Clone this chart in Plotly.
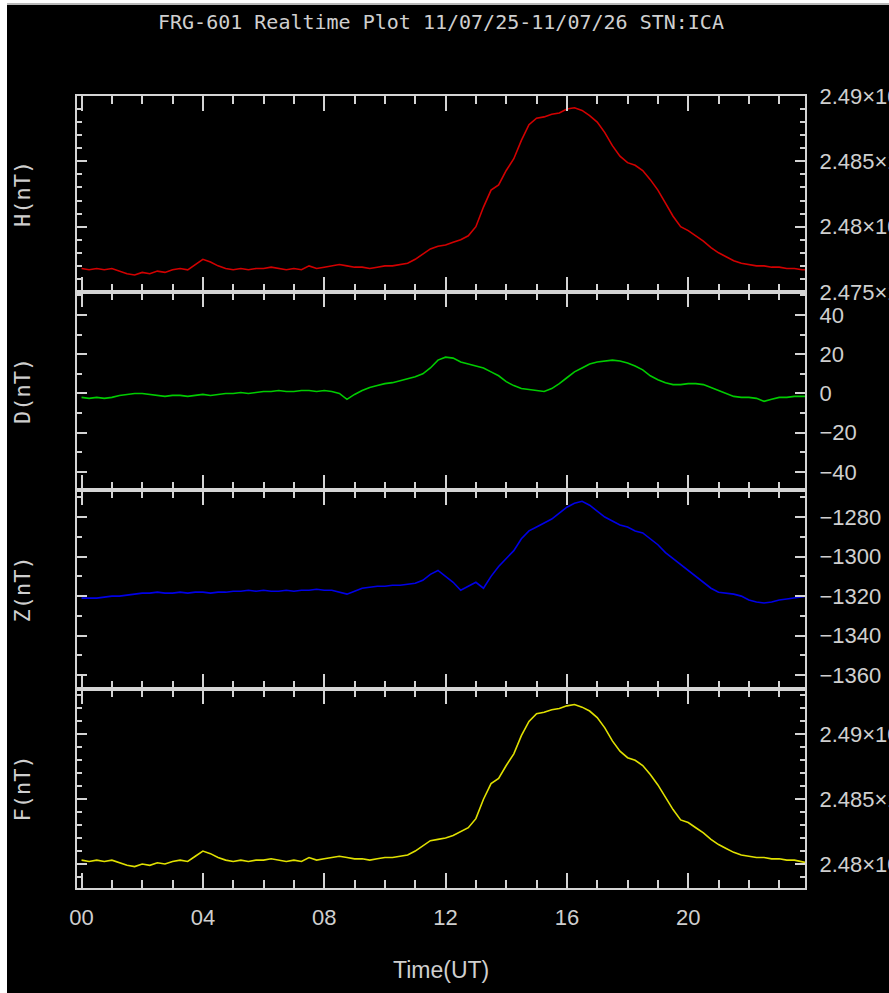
import plotly.graph_objects as go

# ---------------- data ----------------
hours = [i * 0.25 for i in range(96)] + [23.9]

H_nT = [24768, 24767, 24768, 24767, 24768, 24766, 24764, 24763, 24765, 24764, 24766, 24765,
        24767, 24768, 24767, 24771, 24775, 24773, 24770, 24768, 24767, 24768, 24767, 24768,
        24768, 24769, 24768, 24767, 24768, 24767, 24770, 24768, 24769, 24770, 24771, 24770,
        24769, 24769, 24768, 24769, 24770, 24770, 24771, 24772, 24775, 24779, 24783, 24785,
        24786, 24788, 24790, 24793, 24800, 24815, 24828, 24832, 24843, 24852, 24866, 24878,
        24883, 24884, 24886, 24887, 24890, 24891, 24889, 24885, 24880, 24872, 24862, 24854,
        24849, 24847, 24843, 24836, 24828, 24818, 24808, 24800, 24797, 24793, 24789, 24784,
        24780, 24777, 24774, 24772, 24771, 24770, 24770, 24769, 24769, 24768, 24768, 24767,
        24767]

D_nT = [-2, -2.5, -2, -2.5, -2, -1, -0.5, 0, 0, -0.5, -1, -1.5,
        -1, -1, -1.5, -1, -0.5, -1, -0.5, 0, 0, 0.5, 0, 0.5,
        1, 1, 1.5, 1, 1, 1.5, 1.5, 1, 1.5, 1, 0, -3,
        -0.5, 1.5, 3, 4, 5, 5.5, 6.5, 7.5, 8.5, 10, 13, 17,
        18.5, 18, 16, 15, 14, 13, 11, 9, 6, 4, 2.5, 2,
        1.5, 1, 2.5, 5, 8, 11, 13, 15, 16, 16.5, 17, 16.5,
        15.5, 14, 12, 9, 7, 5.5, 4.5, 4.5, 5, 5, 4.5, 3,
        1.5, 0, -1.5, -2, -2, -2.5, -4, -3, -2, -2, -1.5, -1.5,
        -1.5]

Z_nT = [-1321, -1321, -1321, -1320.5, -1320, -1320, -1319.5, -1319, -1318.5, -1318.5, -1318, -1318.5,
        -1318.5, -1318, -1318.5, -1318, -1318, -1318.5, -1318, -1318, -1317.5, -1317.5, -1317, -1317.5,
        -1317, -1317.5, -1317.5, -1317, -1317.5, -1317, -1317, -1316.5, -1317, -1317, -1318, -1319,
        -1317.5, -1316, -1315.5, -1315, -1315, -1314.5, -1314.5, -1314, -1313.5, -1312, -1309, -1307,
        -1310, -1313, -1317, -1315, -1313, -1316, -1310, -1305, -1301, -1297, -1291, -1287,
        -1285, -1283, -1281, -1278, -1275, -1273, -1272, -1274, -1277, -1280, -1282, -1284,
        -1285, -1287, -1288, -1291, -1294, -1298, -1301, -1304, -1307, -1310, -1313, -1316,
        -1318, -1318.5, -1319, -1320, -1322, -1323, -1323.5, -1323, -1322, -1321.5, -1321, -1320.5,
        -1320]

F_nT = [24803, 24802, 24803, 24802, 24803, 24801, 24799, 24798, 24800, 24799, 24801, 24800,
        24802, 24803, 24802, 24806, 24810, 24808, 24805, 24803, 24802, 24803, 24802, 24803,
        24803, 24804, 24803, 24802, 24803, 24802, 24805, 24803, 24804, 24805, 24806, 24805,
        24804, 24804, 24803, 24804, 24805, 24805, 24806, 24807, 24810, 24814, 24818, 24819,
        24820, 24822, 24825, 24828, 24835, 24850, 24862, 24866, 24876, 24885, 24899, 24910,
        24916, 24917, 24919, 24920, 24922, 24923, 24921, 24918, 24913, 24905, 24895, 24887,
        24882, 24880, 24876, 24869, 24861, 24851, 24842, 24834, 24832, 24828, 24824, 24819,
        24815, 24812, 24809, 24807, 24806, 24805, 24805, 24804, 24804, 24803, 24803, 24802,
        24801]

x_tickvals = [0, 4, 8, 12, 16, 20]
x_ticktext = ["00", "04", "08", "12", "16", "20"]

H_tickvals = [24750, 24800, 24850, 24900]
H_ticktext = ["2.475×10<sup>4</sup>", "2.48×10<sup>4</sup>", "2.485×10<sup>4</sup>", "2.49×10<sup>4</sup>"]
D_tickvals = [-40, -20, 0, 20, 40]
D_ticktext = ["−40", "−20", "0", "20", "40"]
Z_tickvals = [-1360, -1340, -1320, -1300, -1280]
Z_ticktext = ["−1360", "−1340", "−1320", "−1300", "−1280"]
F_tickvals = [24800, 24850, 24900]
F_ticktext = ["2.48×10<sup>4</sup>", "2.485×10<sup>4</sup>", "2.49×10<sup>4</sup>"]

title_text = "FRG-601 Realtime Plot 11/07/25-11/07/26 STN:ICA"
x_title = "Time(UT)"

# ---------------- layout helpers ----------------
W, HT = 889, 993
def fx(p):
    return p / W
def fy(p):
    return 1 - p / HT

FG = "#d4d4d4"
TXT = "#cfcfcf"
TICKFONT = dict(family="Liberation Sans, Arial, sans-serif", size=22, color=TXT)
LABELFONT = dict(family="DejaVu Sans Mono, Liberation Mono, monospace", size=22, color=TXT)

panels = [
    ("H(nT)", H_nT, "#d20000", [24750, 24900], H_tickvals, H_ticktext, 24750, 96, 292),
    ("D(nT)", D_nT, "#00cc00", [-49.2, 51.7], D_tickvals, D_ticktext, 0, 292, 490),
    ("Z(nT)", Z_nT, "#0000e6", [-1367, -1266.3], Z_tickvals, Z_ticktext, -1280, 490, 689),
    ("F(nT)", F_nT, "#e0e000", [24781.5, 24935], F_tickvals, F_ticktext, 24800, 689, 888),
]

fig = go.Figure()
layout = dict(
    width=W, height=HT, autosize=False,
    margin=dict(l=0, r=0, t=0, b=0, pad=0),
    paper_bgcolor="white", plot_bgcolor="black",
    showlegend=False,
)
annotations = []
for i, (name, vals, color, yr, tv, tt, t0, ptop, pbot) in enumerate(panels):
    n = "" if i == 0 else str(i + 1)
    fig.add_trace(go.Scatter(x=hours, y=vals, mode="lines",
                             line=dict(color=color, width=1.6),
                             xaxis="x" + n, yaxis="y" + n, hoverinfo="skip"))
    layout["xaxis" + n] = dict(
        domain=[fx(77), fx(805)], anchor="y" + n, range=[-0.15, 23.85],
        tickmode="array", tickvals=x_tickvals, ticktext=x_ticktext,
        showticklabels=(i == 3), ticks="inside", ticklen=15, tickwidth=2, tickcolor=FG,
        minor=dict(tickmode="linear", tick0=0, dtick=1, ticks="inside", ticklen=8,
                   tickwidth=2, tickcolor=FG),
        mirror="allticks", showline=True, linecolor=FG, linewidth=2,
        showgrid=False, zeroline=False, tickfont=TICKFONT, ticklabelstandoff=9,
        automargin=False, fixedrange=True,
    )
    layout["yaxis" + n] = dict(
        domain=[fy(pbot), fy(ptop)], anchor="x" + n, side="right", range=yr,
        tickmode="array", tickvals=tv, ticktext=tt,
        ticks="inside", ticklen=10, tickwidth=2, tickcolor=FG,
        minor=dict(tickmode="linear", tick0=t0, dtick=10, ticks="inside", ticklen=5,
                   tickwidth=2, tickcolor=FG),
        mirror="allticks", showline=True, linecolor=FG, linewidth=2,
        showgrid=False, zeroline=False, tickfont=TICKFONT, ticklabelstandoff=8,
        automargin=False, fixedrange=True,
    )
    annotations.append(dict(text=name, x=fx(22), y=fy((ptop + pbot) / 2),
                            xref="paper", yref="paper", showarrow=False, textangle=-90,
                            xanchor="center", yanchor="middle", font=LABELFONT))

annotations.append(dict(text=title_text, x=fx(441), y=fy(22), xref="paper", yref="paper",
                        showarrow=False, xanchor="center", yanchor="middle",
                        font=dict(family="DejaVu Sans Mono, Liberation Mono, monospace",
                                  size=20, color=TXT)))
annotations.append(dict(text=x_title, x=fx(441), y=fy(970), xref="paper", yref="paper",
                        showarrow=False, xanchor="center", yanchor="middle",
                        font=dict(family=TICKFONT["family"], size=23, color=TXT)))
layout["annotations"] = annotations
layout["shapes"] = [
    dict(type="rect", xref="paper", yref="paper", x0=fx(7), x1=1.0, y0=0, y1=fy(4),
         fillcolor="black", line=dict(width=0), layer="below"),
    dict(type="line", xref="paper", yref="paper", x0=fx(7), x1=1.0, y0=fy(4), y1=fy(4),
         line=dict(color="#b8b8b8", width=2), layer="below"),
]
fig.update_layout(**layout)
fig.write_html("out.html", config={"displayModeBar": False},
               post_script="document.body.style.margin='0';document.body.style.overflow='hidden';")
